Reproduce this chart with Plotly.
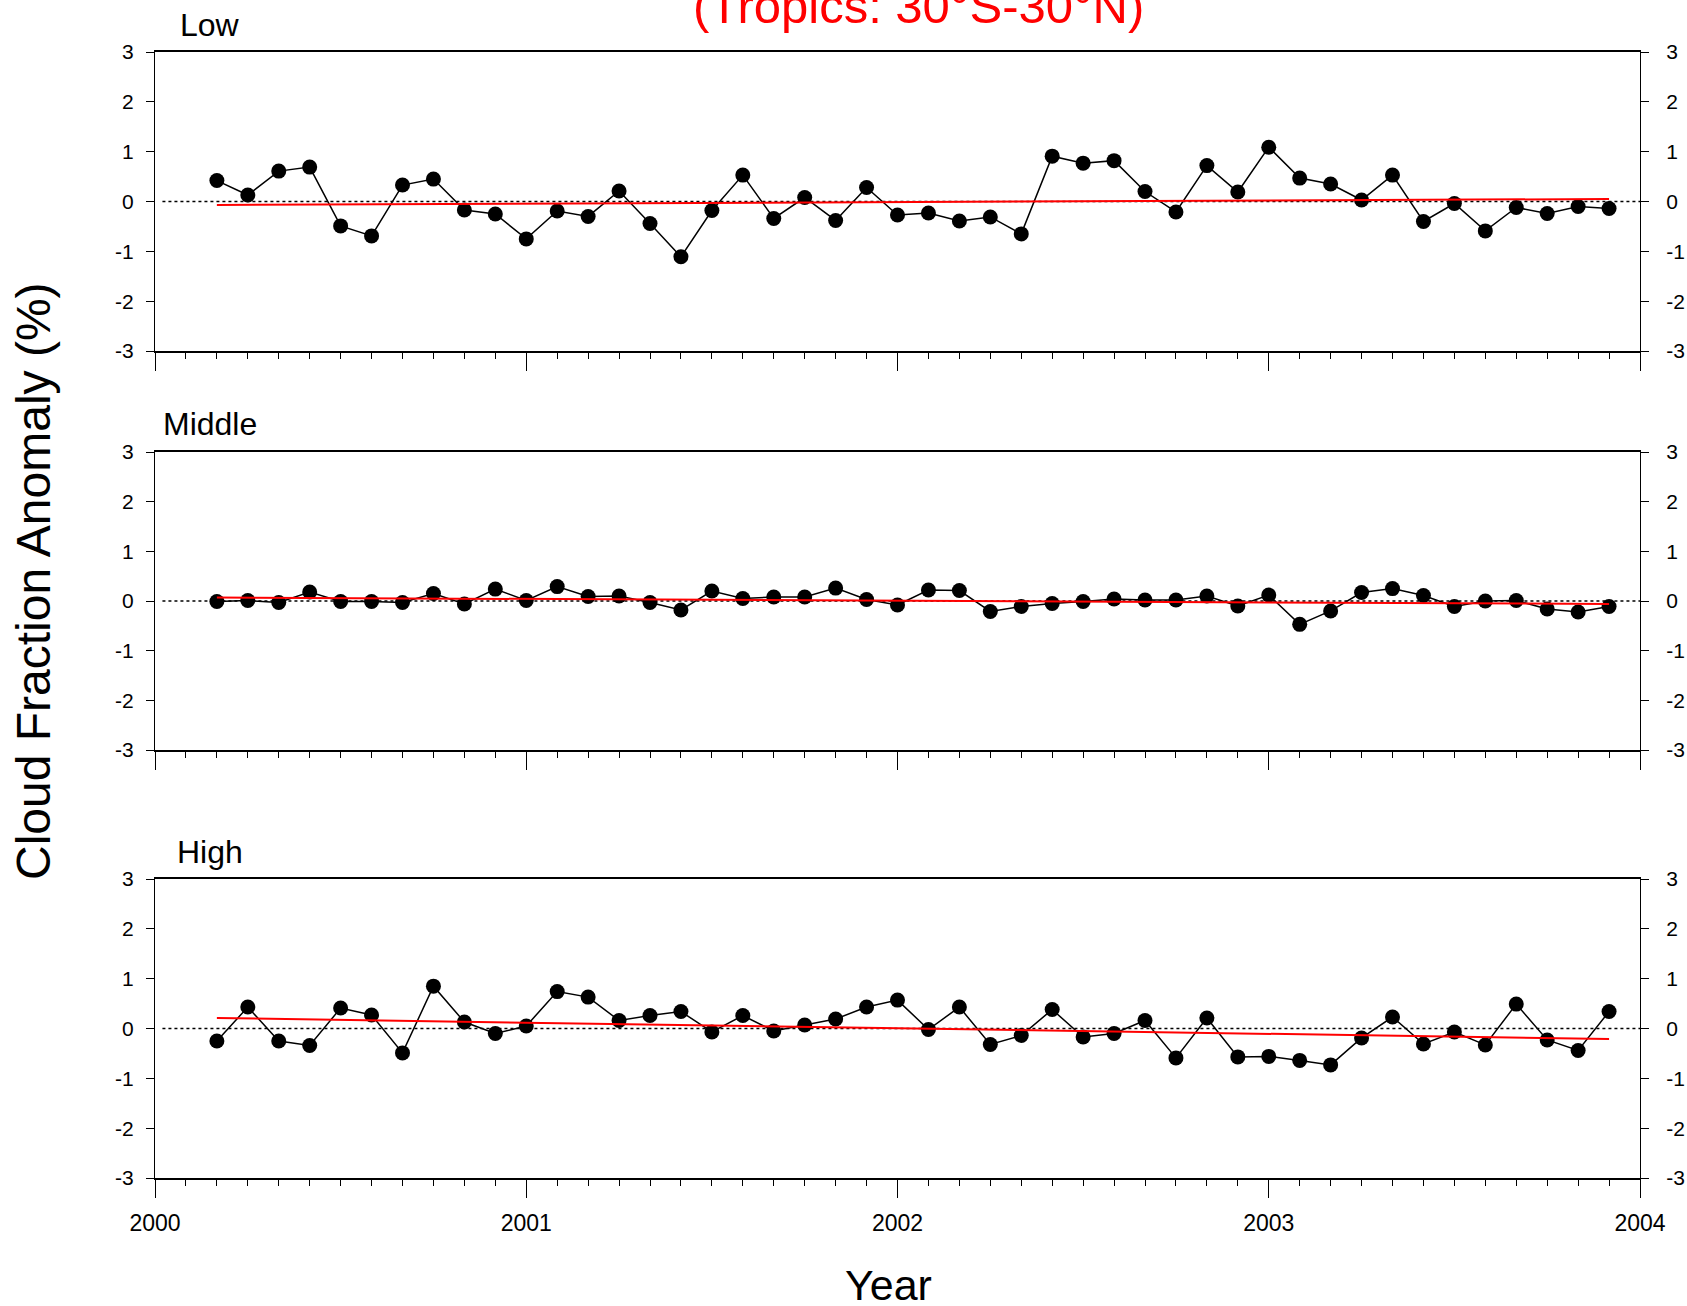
import plotly.graph_objects as go

# ---------------- data ----------------
months = [
    "2000-03", "2000-04", "2000-05", "2000-06", "2000-07", "2000-08", "2000-09", "2000-10", "2000-11", "2000-12",
    "2001-01", "2001-02", "2001-03", "2001-04", "2001-05", "2001-06", "2001-07", "2001-08", "2001-09", "2001-10", "2001-11", "2001-12",
    "2002-01", "2002-02", "2002-03", "2002-04", "2002-05", "2002-06", "2002-07", "2002-08", "2002-09", "2002-10", "2002-11", "2002-12",
    "2003-01", "2003-02", "2003-03", "2003-04", "2003-05", "2003-06", "2003-07", "2003-08", "2003-09", "2003-10", "2003-11", "2003-12",
]

low = [0.42, 0.13, 0.61, 0.69, -0.49, -0.69, 0.33, 0.45, -0.17, -0.25,
       -0.75, -0.19, -0.30, 0.21, -0.44, -1.11, -0.18, 0.53, -0.34, 0.08, -0.38, 0.28,
       -0.27, -0.23, -0.39, -0.31, -0.65, 0.91, 0.77, 0.82, 0.20, -0.21, 0.72, 0.19,
       1.09, 0.47, 0.35, 0.03, 0.53, -0.40, -0.04, -0.59, -0.12, -0.24, -0.10, -0.14]

middle = [-0.01, 0.01, -0.03, 0.18, -0.01, -0.01, -0.03, 0.15, -0.06, 0.24,
          0.01, 0.29, 0.09, 0.10, -0.03, -0.18, 0.20, 0.05, 0.08, 0.08, 0.26, 0.03,
          -0.08, 0.22, 0.21, -0.21, -0.11, -0.05, -0.01, 0.04, 0.02, 0.02, 0.10, -0.10,
          0.12, -0.47, -0.20, 0.17, 0.25, 0.11, -0.11, 0.00, 0.01, -0.16, -0.22, -0.11]

high = [-0.25, 0.43, -0.25, -0.34, 0.41, 0.27, -0.49, 0.85, 0.13, -0.10,
        0.05, 0.74, 0.63, 0.16, 0.26, 0.34, -0.07, 0.26, -0.05, 0.07, 0.19, 0.43,
        0.57, -0.02, 0.43, -0.32, -0.14, 0.38, -0.17, -0.10, 0.16, -0.59, 0.21, -0.57,
        -0.56, -0.64, -0.73, -0.19, 0.23, -0.31, -0.07, -0.33, 0.49, -0.23, -0.44, 0.34]

# linear trend end values (first month, last month)
trend_low = [-0.07, 0.05]
trend_middle = [0.07, -0.06]
trend_high = [0.21, -0.21]

panel_names = ["Low", "Middle", "High"]
year_ticks = [2000, 2001, 2002, 2003, 2004]
y_ticks = [-3, -2, -1, 0, 1, 2, 3]

# ---------------- figure ----------------
W, H = 1687, 1306
FONT = "Liberation Sans, Arial, Helvetica, sans-serif"

xs = [int(m[:4]) + (int(m[5:]) - 1) / 12.0 for m in months]

series = [low, middle, high]
trends = [trend_low, trend_middle, trend_high]

# panel pixel extents (top, bottom)
panel_px = [(52, 351), (452, 750), (879, 1178)]
x_dom = [155 / W, 1640 / W]
label_baseline = [35.7, 435, 863]

fig = go.Figure()
layout = dict(
    width=W, height=H,
    margin=dict(l=0, r=0, t=0, b=0, pad=0, autoexpand=False),
    paper_bgcolor="white", plot_bgcolor="white",
    showlegend=False,
    font=dict(family=FONT, color="black"),
)
shapes = []
annotations = []

for i in range(3):
    xa = "x" if i == 0 else f"x{i + 1}"
    yl = "y" if i == 0 else f"y{2 * i + 1}"
    yr = f"y{2 * i + 2}"
    xkey = "xaxis" if i == 0 else f"xaxis{i + 1}"
    ylkey = "yaxis" if i == 0 else f"yaxis{2 * i + 1}"
    yrkey = f"yaxis{2 * i + 2}"
    top, bot = panel_px[i]
    ydom = [1 - bot / H, 1 - top / H]

    fig.add_trace(go.Scatter(
        x=xs, y=series[i], xaxis=xa, yaxis=yl, mode="lines+markers",
        line=dict(color="black", width=1.5),
        marker=dict(color="black", size=15),
        hoverinfo="x+y",
    ))
    fig.add_trace(go.Scatter(
        x=[xs[0], xs[-1]], y=trends[i], xaxis=xa, yaxis=yl, mode="lines",
        line=dict(color="red", width=2), hoverinfo="skip",
    ))
    # invisible anchor trace for right-hand axis
    fig.add_trace(go.Scatter(
        x=[xs[0]], y=[0], xaxis=xa, yaxis=yr, mode="markers",
        marker=dict(opacity=0), hoverinfo="skip",
    ))

    layout[xkey] = dict(
        domain=x_dom, anchor=yl, range=[2000, 2004], automargin=False,
        tickmode="array", tickvals=year_ticks, ticktext=[str(v) for v in year_ticks],
        ticks="outside", ticklen=18, tickwidth=1, tickcolor="black",
        showticklabels=(i == 2), tickfont=dict(size=23, color="black"),
        ticklabelstandoff=6,
        showline=True, mirror=True, linecolor="black", linewidth=1.5,
        showgrid=False, zeroline=False,
        minor=dict(tickmode="linear", tick0=2000, dtick=1 / 12.0, ticks="outside",
                   ticklen=6, tickwidth=1, tickcolor="black", showgrid=False),
    )
    layout[ylkey] = dict(
        domain=ydom, anchor=xa, range=[-3, 3], automargin=False,
        tickmode="array", tickvals=y_ticks, ticktext=[str(v) for v in y_ticks],
        ticks="outside", ticklen=8, tickwidth=1, tickcolor="black",
        tickfont=dict(size=21, color="black"), ticklabelstandoff=8,
        showline=True, mirror=True, linecolor="black", linewidth=1,
        showgrid=False, zeroline=False,
    )
    layout[yrkey] = dict(
        overlaying=yl, side="right", anchor=xa, range=[-3, 3], automargin=False,
        tickmode="array", tickvals=y_ticks, ticktext=[str(v) for v in y_ticks],
        ticks="outside", ticklen=8, tickwidth=1, tickcolor="black",
        tickfont=dict(size=21, color="black"), ticklabelstandoff=13,
        showline=False, showgrid=False, zeroline=False,
    )

    shapes.append(dict(
        type="line", xref=xa, yref=yl, x0=2000.02, x1=2004, y0=0, y1=0,
        line=dict(color="black", width=1.5, dash="dot"), layer="below",
    ))

    S = 32
    cy = label_baseline[i] - 0.3465 * S
    annotations.append(dict(
        text=panel_names[i], xref="paper", yref="paper",
        x=210 / W, y=1 - cy / H, xanchor="center", yanchor="middle",
        showarrow=False, font=dict(size=S, color="black", family=FONT),
    ))

# title (partly above the page edge, as in the reference)
annotations.append(dict(
    text="(Tropics: 30°S-30°N)", xref="paper", yref="paper",
    x=919 / W, y=1 - (23 - 0.3465 * 49) / H, xanchor="center", yanchor="middle",
    showarrow=False, font=dict(size=49, color="red", family=FONT),
))
# y axis title
annotations.append(dict(
    text="Cloud Fraction Anomaly (%)", xref="paper", yref="paper",
    x=34 / W, y=1 - 581 / H, xanchor="center", yanchor="middle", textangle=-90,
    showarrow=False, font=dict(size=48, color="black", family=FONT),
))
# x axis title
annotations.append(dict(
    text="Year", xref="paper", yref="paper",
    x=888 / W, y=1 - (1300 - 0.3465 * 43) / H, xanchor="center", yanchor="middle",
    showarrow=False, font=dict(size=43, color="black", family=FONT),
))

layout["shapes"] = shapes
layout["annotations"] = annotations
fig.update_layout(**layout)

fig.write_html("out.html")
